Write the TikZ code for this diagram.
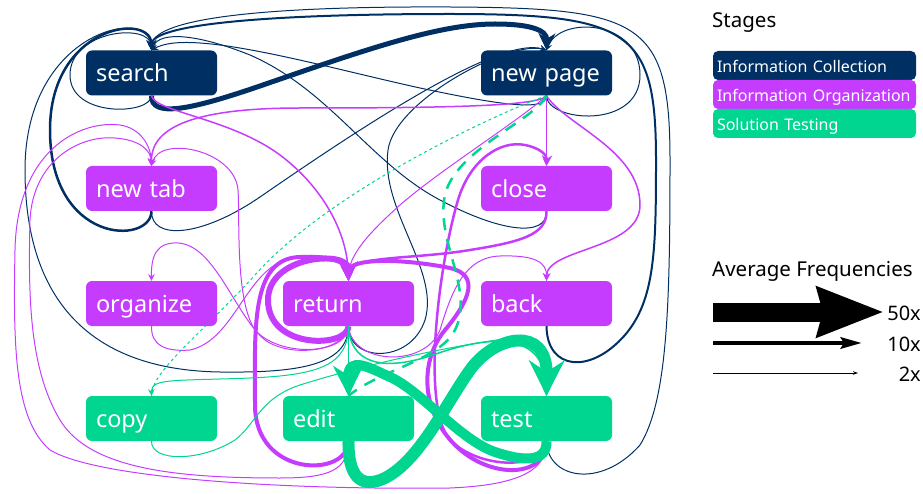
\documentclass[tikz,border=0pt]{standalone}
\usepackage{fontspec}
\setmainfont{Noto Sans}
\usetikzlibrary{arrows.meta}
\definecolor{nav}{RGB}{0,48,99}
\definecolor{pur}{RGB}{198,60,255}
\definecolor{grn}{RGB}{0,214,143}
\pgfdeclarelayer{bg}
\pgfsetlayers{bg,main}
\begin{document}
\begin{tikzpicture}[x=1pt,y=-1pt,
  stage/.style={rectangle, rounded corners=6pt, minimum width=131pt, minimum height=45pt,
    text width=111pt, align=left, inner xsep=10pt, inner ysep=0pt, text height=19pt, text depth=1pt,
    text=white, font=\fontsize{23.5}{24}\selectfont},
  legbox/.style={rectangle, rounded corners=5pt, minimum width=203pt, minimum height=29pt,
    text width=195pt, align=left, inner xsep=4pt, inner ysep=0pt, text height=15pt, text depth=1pt,
    text=white, font=\fontsize{16}{16}\selectfont},
  wl/.style={line width=#1pt, -{Stealth[length=4pt 2.6, width=4pt 2.6]}},
  nv/.style={draw=nav}, pp/.style={draw=pur}, gg/.style={draw=grn},
  lbl/.style={inner sep=0pt, text=black}]
\useasboundingbox (0,0) rectangle (923,494);
% nodes
\node[stage, fill=nav] (s)   at (151.5,73)  {search};
\node[stage, fill=nav] (np)  at (546.5,73)  {new page};
\node[stage, fill=pur] (nt)  at (151.5,188.5) {new tab};
\node[stage, fill=pur] (cl)  at (546.5,188.5) {close};
\node[stage, fill=pur] (org) at (151.5,303.5) {organize};
\node[stage, fill=pur] (ret) at (348.5,303.5) {return};
\node[stage, fill=pur] (bk)  at (546.5,303.5) {back};
\node[stage, fill=grn] (cp)  at (151.5,418.5) {copy};
\node[stage, fill=grn] (ed)  at (348.5,418.5) {edit};
\node[stage, fill=grn] (ts)  at (546.5,418.5) {test};
% legend
\node[lbl, anchor=west, font=\fontsize{20.5}{21}\selectfont] (stg) at (712,23) {Stages};
\node[legbox, fill=nav] (l1) at (814.5,65.5) {Information Collection};
\node[legbox, fill=pur] (l2) at (814.5,94.5) {Information Organization};
\node[legbox, fill=grn] (l3) at (814.5,123.5) {Solution Testing};
\node[lbl, anchor=west, font=\fontsize{20.5}{21}\selectfont] (avf) at (712,271) {Average Frequencies};
\coordinate (a50s) at (713,312); \coordinate (a50e) at (884,312);
\coordinate (a10s) at (713,343); \coordinate (a10e) at (862,343);
\coordinate (a2s) at (713,373);  \coordinate (a2e) at (858,373);
\draw[line width=19pt, -{Stealth[length=66pt, width=48pt, inset=5pt]}] (a50s) -- (a50e);
\draw[line width=4.5pt, -{Stealth[length=21pt, width=11pt, inset=3pt]}] (a10s) -- (a10e);
\draw[line width=1pt, -{Stealth[length=5pt, width=3.5pt]}] (a2s) -- (a2e);
\node[lbl, anchor=east, font=\fontsize{20}{20}\selectfont] (f50) at (921,313) {50x};
\node[lbl, anchor=east, font=\fontsize{20}{20}\selectfont] (f10) at (921,344) {10x};
\node[lbl, anchor=east, font=\fontsize{20}{20}\selectfont] (f2) at (921,374) {2x};
\begin{pgfonlayer}{bg}
% navy edges
\draw[nv, wl=5] (s.south) .. controls (151,118) and (190,110) .. (260,86) .. controls (370,48) and (440,24) .. (495,24) .. controls (530,24) and (547,30) .. (np.north);
\draw[nv, wl=1] (s.south) .. controls (151,115) and (70,118) .. (70,75) .. controls (70,30) and (151,22) .. (s.north);
\draw[nv, wl=2.5] (nt.south) .. controls (151,245) and (50,245) .. (50,130) .. controls (50,25) and (151,12) .. (s.north);
\draw[nv, wl=1] (ret.south) .. controls (348,365) and (300,373) .. (220,372) .. controls (90,370) and (25,300) .. (25,170) .. controls (25,30) and (151,5) .. (s.north);
\draw[nv, wl=1] (ts.south) .. controls (547,478) and (600,490) .. (640,445) .. controls (668,400) and (670,300) .. (670,160) .. controls (670,20) and (640,8) .. (450,7) .. controls (250,6) and (151,20) .. (s.north);
\draw[nv, wl=2] (bk.south) .. controls (547,370) and (590,375) .. (625,335) .. controls (655,300) and (656,250) .. (656,160) .. controls (656,30) and (630,14) .. (450,14) .. controls (260,14) and (151,25) .. (s.north);
\draw[nv, wl=1] (np.south) .. controls (547,112) and (500,105) .. (420,88) .. controls (320,66) and (190,28) .. (s.north);
\draw[nv, wl=1] (cl.south) .. controls (547,238) and (500,232) .. (440,200) .. controls (370,163) and (330,90) .. (250,55) .. controls (200,35) and (160,30) .. (s.north);
\draw[nv, wl=1] (np.south) .. controls (547,122) and (640,130) .. (640,75) .. controls (640,20) and (560,15) .. (np.north);
\draw[nv, wl=1] (nt.south) .. controls (151,240) and (200,238) .. (260,197) .. controls (360,128) and (500,35) .. (np.north);
\draw[nv, wl=1] (ret.south) .. controls (348,362) and (410,365) .. (425,320) .. controls (440,270) and (380,210) .. (388,150) .. controls (395,100) and (510,40) .. (np.north);
% purple edges
\draw[pp, wl=1.5] (s.south) .. controls (155,112) and (230,118) .. (280,155) .. controls (320,185) and (348,230) .. (ret.north);
\draw[pp, wl=1.5] (np.south) .. controls (540,106) and (450,108) .. (300,108) .. controls (200,108) and (151,125) .. (nt.north);
\draw[pp, wl=1] (np.south) -- (cl.north);
\draw[pp, wl=1] (np.south) .. controls (520,120) and (440,170) .. (400,205) .. controls (370,232) and (348,255) .. (ret.north);
\draw[pp, wl=1.5] (np.south) .. controls (565,125) and (640,150) .. (640,205) .. controls (640,250) and (547,248) .. (bk.north);
\draw[pp, wl=1] (ret.south) .. controls (348,355) and (280,358) .. (255,330) .. controls (235,300) and (240,220) .. (238,190) .. controls (235,150) and (160,135) .. (nt.north);
\draw[pp, wl=1] (ts.south) .. controls (547,470) and (520,485) .. (450,488) .. controls (300,490) and (100,480) .. (50,450) .. controls (15,420) and (13,350) .. (15,250) .. controls (17,150) and (80,120) .. (120,125) .. controls (140,128) and (151,145) .. (nt.north);
\draw[pp, wl=1] (ed.south) .. controls (348,470) and (330,478) .. (280,478) .. controls (180,478) and (90,470) .. (60,420) .. controls (30,370) and (28,300) .. (30,220) .. controls (33,160) and (80,135) .. (115,138) .. controls (140,140) and (151,150) .. (nt.north);
\draw[pp, wl=2.5] (ts.south) .. controls (545,470) and (480,470) .. (450,440) .. controls (420,405) and (440,260) .. (458,200) .. controls (470,160) and (500,140) .. (525,145) .. controls (540,148) and (547,155) .. (cl.north);
\draw[pp, wl=2.5] (cl.south) .. controls (547,235) and (520,242) .. (470,250) .. controls (410,260) and (348,255) .. (ret.north);
\draw[pp, wl=6] (ret.south) .. controls (348,348) and (268,350) .. (268,300) .. controls (268,255) and (348,250) .. (ret.north);
\draw[pp, wl=4] (ed.south) .. controls (348,478) and (255,478) .. (255,405) .. controls (255,330) and (250,258) .. (300,257) .. controls (330,256) and (348,262) .. (ret.north);
\draw[pp, wl=4] (ts.south) .. controls (547,478) and (490,480) .. (455,445) .. controls (420,410) and (420,360) .. (445,330) .. controls (470,300) and (480,275) .. (450,268) .. controls (400,258) and (348,258) .. (ret.north);
\draw[pp, wl=1] (ret.south) .. controls (345,352) and (290,358) .. (265,340) .. controls (235,315) and (215,245) .. (178,243) .. controls (157,242) and (151,255) .. (org.north);
\draw[pp, wl=1] (org.south) .. controls (151,345) and (165,352) .. (190,350) .. controls (235,340) and (245,270) .. (290,258) .. controls (330,250) and (348,262) .. (ret.north);
\draw[pp, wl=1] (ret.south) .. controls (352,365) and (425,368) .. (440,330) .. controls (452,290) and (465,257) .. (500,256) .. controls (535,255) and (547,262) .. (bk.north);
% green edges
\draw[gg, wl=12] (ed.south) .. controls (348,475) and (360,490) .. (385,478) .. controls (420,460) and (445,405) .. (470,370) .. controls (495,335) and (547,325) .. (ts.north);
\draw[gg, wl=10] (ts.south) .. controls (547,462) and (525,462) .. (495,452) .. controls (460,440) and (420,390) .. (390,377) .. controls (370,368) and (348,355) .. (ed.north);
\draw[gg, wl=1] (ret.south) -- (ed.north);
\draw[gg, wl=1.5] (ret.south) .. controls (350,362) and (380,372) .. (430,356) .. controls (480,338) and (547,325) .. (ts.north);
\draw[gg, wl=1] (cp.south) .. controls (151,462) and (200,462) .. (235,440) .. controls (255,425) and (260,398) .. (300,385) .. controls (380,360) and (460,345) .. (510,338) .. controls (535,335) and (547,350) .. (ts.north);
\draw[gg, wl=1] (ret.south) .. controls (348,365) and (320,375) .. (250,378) .. controls (175,381) and (151,378) .. (cp.north);
\draw[gg, line width=1pt, dash pattern=on 3pt off 3pt] (np.south) .. controls (500,112) and (330,190) .. (255,275) .. controls (200,335) and (151,372) .. (cp.north);
\draw[gg, line width=2.5pt, dash pattern=on 12pt off 9pt] (np.south) .. controls (535,120) and (455,150) .. (445,195) .. controls (435,240) and (475,290) .. (455,330) .. controls (440,360) and (380,370) .. (ed.north);
\end{pgfonlayer}
\end{tikzpicture}
\end{document}
